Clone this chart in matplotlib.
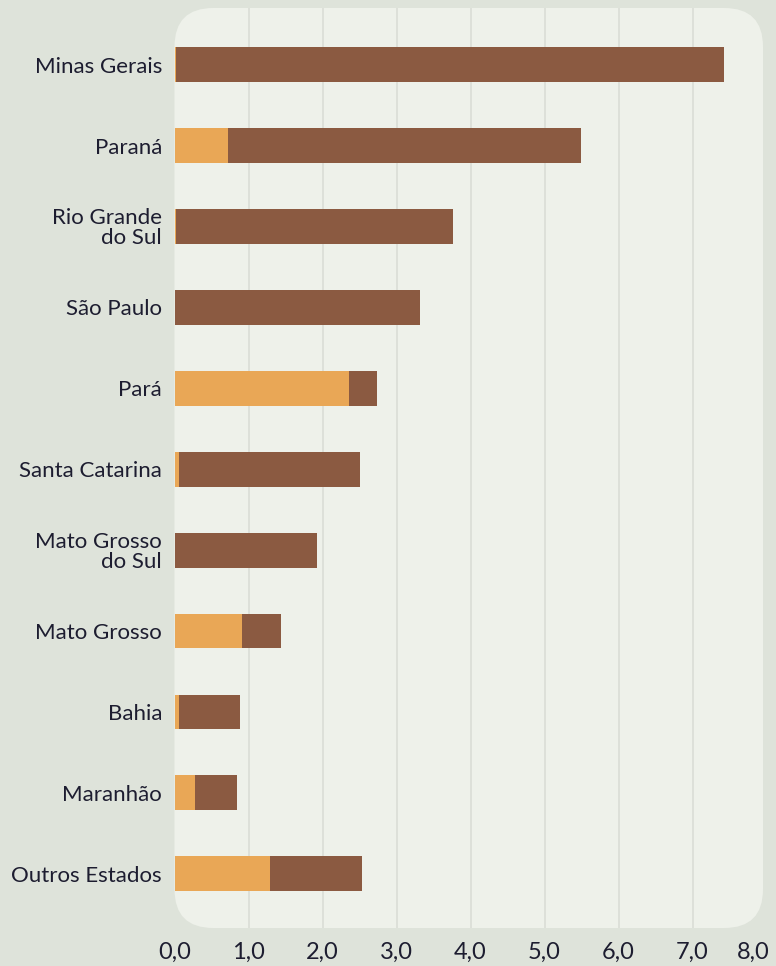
import matplotlib
matplotlib.use("Agg")
import matplotlib.pyplot as plt
from matplotlib.patches import FancyBboxPatch
import matplotlib.transforms as mtransforms

states = ["Minas Gerais", "Paraná", "Rio Grande\ndo Sul", "São Paulo", "Pará",
          "Santa Catarina", "Mato Grosso\ndo Sul", "Mato Grosso", "Bahia",
          "Maranhão", "Outros Estados"]
orange_vals = [0.02, 0.72, 0.02, 0.0, 2.36, 0.06, 0.0, 0.91, 0.065, 0.28, 1.29]
total_vals = [7.42, 5.49, 3.76, 3.32, 2.73, 2.51, 1.92, 1.44, 0.88, 0.84, 2.54]
brown_vals = [t - o for t, o in zip(total_vals, orange_vals)]
xticks = [0, 1, 2, 3, 4, 5, 6, 7, 8]
xticklabels = ["0,0", "1,0", "2,0", "3,0", "4,0", "5,0", "6,0", "7,0", "8,0"]

ORANGE = "#E9A756"
BROWN = "#8B5A41"
OUTER = "#DEE3DA"
PANEL = "#EEF1EA"
GRID = "#DCDFD8"
TEXT = "#1D1D30"

W, H = 776, 966
fig = plt.figure(figsize=(W / 100, H / 100), dpi=100)
fig.patch.set_facecolor(OUTER)

x0_px, x8_px = 174.5, 766.5
top_px, bot_px = 8, 928
ax = fig.add_axes([x0_px / W, 1 - bot_px / H, (x8_px - x0_px) / W, (bot_px - top_px) / H])
ax.set_facecolor("none")
ax.set_zorder(2)

# rounded panel
panel_right = 763
panel = FancyBboxPatch((x0_px / W, 1 - bot_px / H), (panel_right - x0_px) / W, (bot_px - top_px) / H,
                       boxstyle="round,pad=0,rounding_size=0.05", transform=fig.transFigure,
                       facecolor=PANEL, edgecolor="none", zorder=0,
                       mutation_aspect=W / H)
fig.patches.append(panel)

y = list(range(len(states)))
ax.barh(y, orange_vals, height=0.43, color=ORANGE, zorder=3)
ax.barh(y, brown_vals, left=orange_vals, height=0.43, color=BROWN, zorder=3)

ax.set_xlim(0, 8)
ax.set_ylim(len(states) - 1 + 0.67, -0.70)

for xv in xticks[1:]:
    ln = ax.axvline(xv, color=GRID, lw=1.3, zorder=1)
    ln.set_clip_path(panel)

for s in ax.spines.values():
    s.set_visible(False)

ax.set_yticks(y)
ax.set_yticklabels(states, fontsize=16, color=TEXT, family="Lato", linespacing=1.0)
ax.set_xticks(xticks)
ax.set_xticklabels(xticklabels, fontsize=17, color=TEXT, family="Lato")
ax.tick_params(axis="y", length=0, pad=9)
ax.tick_params(axis="x", length=0, pad=10)

lbls = ax.get_xticklabels()
off = mtransforms.ScaledTranslation(-13 / 100, 0, fig.dpi_scale_trans)
lbls[-1].set_transform(lbls[-1].get_transform() + off)

fig.savefig("out.png", dpi=100, facecolor=OUTER)
